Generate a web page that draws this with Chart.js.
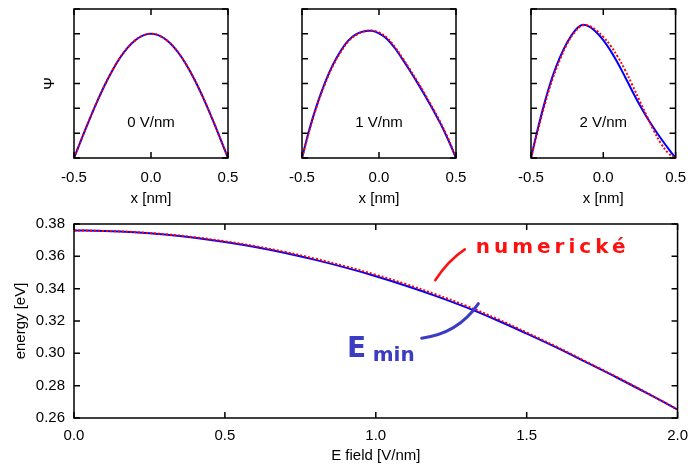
<!DOCTYPE html>
<html>
<head>
<meta charset="utf-8">
<script src="https://cdn.jsdelivr.net/npm/chart.js@4.4.0/dist/chart.umd.min.js"></script>
<style>
  html, body { margin: 0; padding: 0; background: #fff; }
  #wrap { position: relative; width: 697px; height: 468px; }
  #wrap canvas { position: absolute; left: 0; top: 0; }
</style>
</head>
<body>
<div id="wrap">
  <canvas id="psi0" width="697" height="468"></canvas>
  <canvas id="psi1" width="697" height="468"></canvas>
  <canvas id="psi2" width="697" height="468"></canvas>
  <canvas id="energy" width="697" height="468"></canvas>
</div>
<script>
// wavefunction grid [nm]
const xGrid = [-0.5, -0.45, -0.4, -0.35, -0.3, -0.25, -0.2, -0.15, -0.1, -0.05, 0,
               0.05, 0.1, 0.15, 0.2, 0.25, 0.3, 0.35, 0.4, 0.45, 0.5];

// 0 V/nm
const psi0Min = [0, 0.156, 0.309, 0.454, 0.588, 0.707, 0.809, 0.891, 0.951, 0.988, 1.0,
                 0.988, 0.951, 0.891, 0.809, 0.707, 0.588, 0.454, 0.309, 0.156, 0];
const psi0Num = [0, 0.156, 0.309, 0.454, 0.588, 0.707, 0.809, 0.891, 0.951, 0.988, 1.0,
                 0.988, 0.951, 0.891, 0.809, 0.707, 0.588, 0.454, 0.309, 0.156, 0];
// 1 V/nm
const psi1Min = [0, 0.24, 0.44, 0.61, 0.75, 0.86, 0.945, 0.995, 1.02, 1.024, 1.004,
                 0.96, 0.89, 0.80, 0.705, 0.605, 0.50, 0.39, 0.275, 0.145, 0];
const psi1Num = [0, 0.23, 0.43, 0.60, 0.74, 0.85, 0.937, 0.99, 1.018, 1.026, 1.012,
                 0.97, 0.90, 0.81, 0.715, 0.615, 0.51, 0.40, 0.285, 0.155, 0];
// 2 V/nm
const psi2Min = [0, 0.25, 0.47, 0.66, 0.81, 0.93, 1.02, 1.07, 1.06, 1.015, 0.95,
                 0.865, 0.765, 0.655, 0.54, 0.43, 0.33, 0.24, 0.155, 0.075, 0];
const psi2Num = [0, 0.23, 0.45, 0.64, 0.79, 0.92, 1.01, 1.065, 1.065, 1.03, 0.975,
                 0.905, 0.815, 0.71, 0.59, 0.465, 0.34, 0.22, 0.115, 0.04, 0];

// energy vs field
const fieldGrid = [0, 0.1, 0.2, 0.3, 0.4, 0.5, 0.6, 0.7, 0.8, 0.9, 1.0,
                   1.1, 1.2, 1.3, 1.4, 1.5, 1.6, 1.7, 1.8, 1.9, 2.0];
const energyMin = [0.3760, 0.3757, 0.3749, 0.3735, 0.3715, 0.3689, 0.3658, 0.3621, 0.3578, 0.3530, 0.3477,
                   0.3418, 0.3354, 0.3284, 0.3206, 0.3122, 0.3035, 0.2942, 0.2849, 0.2752, 0.2652];
const energyNum = [0.3760, 0.3757, 0.3750, 0.3737, 0.3718, 0.3693, 0.3663, 0.3627, 0.3585, 0.3538, 0.3486,
                   0.3428, 0.3364, 0.3294, 0.3215, 0.3129, 0.3040, 0.2946, 0.2852, 0.2754, 0.2653];

// ticks and labels
const psiXTicks = [-0.5, 0, 0.5];
const psiYTicks = [0, 0.2, 0.4, 0.6, 0.8, 1.0, 1.2];
const fieldTicks = [0, 0.5, 1.0, 1.5, 2.0];
const energyTicks = [0.26, 0.28, 0.30, 0.32, 0.34, 0.36, 0.38];
const panelLabels = ['0 V/nm', '1 V/nm', '2 V/nm'];

const FAMILY = '"Liberation Sans", Arial, sans-serif';
const font = { family: FAMILY, size: 15 };
const RED = '#ff0000';
const BLUE = '#0000ff';

function pts(xs, ys) {
  return xs.map((x, i) => ({ x: x, y: ys[i] }));
}

function fixTicks(list) {
  return s => { s.ticks = list.map(v => ({ value: v })); };
}

// gnuplot-like frame with inward ticks on all sides
const frame = {
  id: 'frame',
  afterDatasetsDraw(chart) {
    const { ctx, chartArea: a, scales: { x, y } } = chart;
    const len = 6;
    ctx.save();
    ctx.strokeStyle = '#000';
    ctx.lineWidth = 1.5;
    ctx.beginPath();
    x.ticks.forEach(t => {
      const px = x.getPixelForValue(t.value);
      ctx.moveTo(px, a.bottom); ctx.lineTo(px, a.bottom - len);
      ctx.moveTo(px, a.top); ctx.lineTo(px, a.top + len);
    });
    y.ticks.forEach(t => {
      const py = y.getPixelForValue(t.value);
      ctx.moveTo(a.left, py); ctx.lineTo(a.left + len, py);
      ctx.moveTo(a.right, py); ctx.lineTo(a.right - len, py);
    });
    ctx.stroke();
    ctx.strokeRect(a.left, a.top, a.right - a.left, a.bottom - a.top);
    ctx.restore();
  }
};

// field label inside each small panel
const panelText = {
  id: 'panelText',
  afterDatasetsDraw(chart, args, opts) {
    const { ctx, scales: { x, y } } = chart;
    ctx.save();
    ctx.font = '15px ' + FAMILY;
    ctx.fillStyle = '#000';
    ctx.textAlign = 'center';
    ctx.textBaseline = 'middle';
    ctx.fillText(opts.text, x.getPixelForValue(opts.x), y.getPixelForValue(opts.y));
    ctx.restore();
  }
};

// hand-written notes on the energy plot (positions in data units)
const notes = {
  id: 'notes',
  afterDatasetsDraw(chart, args, opts) {
    const { ctx, scales: { x, y } } = chart;
    const P = p => [x.getPixelForValue(p[0]), y.getPixelForValue(p[1])];
    ctx.save();
    ctx.lineCap = 'round';
    opts.strokes.forEach(s => {
      const a = P(s.from), c = P(s.ctrl), b = P(s.to);
      ctx.strokeStyle = s.color;
      ctx.lineWidth = s.width;
      ctx.beginPath();
      ctx.moveTo(a[0], a[1]);
      ctx.quadraticCurveTo(c[0], c[1], b[0], b[1]);
      ctx.stroke();
    });
    opts.texts.forEach(t => {
      const p = P(t.at);
      ctx.fillStyle = t.color;
      ctx.font = t.font;
      ctx.letterSpacing = t.spacing || '0px';
      ctx.textAlign = 'left';
      ctx.textBaseline = 'alphabetic';
      ctx.fillText(t.text, p[0], p[1]);
    });
    ctx.restore();
  }
};

function psiChart(id, minVals, numVals, label, pad, showY) {
  new Chart(document.getElementById(id), {
    type: 'line',
    data: {
      datasets: [
        { data: pts(xGrid, numVals), borderColor: RED, borderWidth: 2, borderDash: [2, 2],
          pointRadius: 0, tension: 0.4 },
        { data: pts(xGrid, minVals), borderColor: BLUE, borderWidth: 2,
          pointRadius: 0, tension: 0.4 }
      ]
    },
    options: {
      responsive: false,
      animation: false,
      events: [],
      layout: { padding: pad },
      plugins: {
        legend: { display: false },
        tooltip: { enabled: false },
        panelText: { text: label, x: 0, y: 0.285 }
      },
      scales: {
        x: {
          type: 'linear', min: -0.5, max: 0.5,
          afterBuildTicks: fixTicks(psiXTicks),
          afterFit: s => { s.height = 50; },
          grid: { display: false, drawTicks: false }, border: { display: false },
          ticks: { font: font, color: '#000', padding: 11, maxRotation: 0, callback: v => v.toFixed(1) },
          title: { display: true, text: 'x [nm]', font: font, color: '#000', padding: { top: 0, bottom: 0 } }
        },
        y: {
          type: 'linear', min: 0, max: 1.2,
          afterBuildTicks: fixTicks(psiYTicks),
          afterFit: s => { s.width = showY ? 74 : 0; },
          grid: { display: false, drawTicks: false }, border: { display: false },
          ticks: { display: false },
          title: { display: showY, text: 'Ψ', font: font, color: '#000', padding: { top: 41, bottom: 0 } }
        }
      }
    },
    plugins: [frame, panelText]
  });
}

psiChart('psi0', psi0Min, psi0Num, panelLabels[0], { left: 0, right: 469, top: 9, bottom: 260 }, true);
psiChart('psi1', psi1Min, psi1Num, panelLabels[1], { left: 302, right: 241, top: 9, bottom: 260 }, false);
psiChart('psi2', psi2Min, psi2Num, panelLabels[2], { left: 531, right: 13, top: 9, bottom: 260 }, false);

new Chart(document.getElementById('energy'), {
  type: 'line',
  data: {
    datasets: [
      { data: pts(fieldGrid, energyNum), borderColor: RED, borderWidth: 2, borderDash: [2, 2],
        pointRadius: 0, tension: 0.4 },
      { data: pts(fieldGrid, energyMin), borderColor: BLUE, borderWidth: 2,
        pointRadius: 0, tension: 0.4 }
    ]
  },
  options: {
    responsive: false,
    animation: false,
    events: [],
    layout: { padding: { left: 0, right: 13, top: 224, bottom: 0 } },
    plugins: {
      legend: { display: false },
      tooltip: { enabled: false },
      notes: {
        strokes: [
          { from: [1.197, 0.3452], ctrl: [1.24, 0.3575], to: [1.295, 0.3643], color: '#ff1010', width: 2.5 },
          { from: [1.152, 0.3094], ctrl: [1.272, 0.3121], to: [1.340, 0.3307], color: '#3b3bc4', width: 3 }
        ],
        texts: [
          { text: 'numerické', at: [1.331, 0.3623], color: '#ff1010', font: 'bold 20px "DejaVu Sans"', spacing: '4px' },
          { text: 'E', at: [0.905, 0.2977], color: '#3b3bc4', font: 'bold 28px "DejaVu Sans"' },
          { text: 'min', at: [0.99, 0.2952], color: '#3b3bc4', font: 'bold 20px "DejaVu Sans"' }
        ]
      }
    },
    scales: {
      x: {
        type: 'linear', min: 0, max: 2,
        afterBuildTicks: fixTicks(fieldTicks),
        afterFit: s => { s.height = 50; },
        grid: { display: false, drawTicks: false }, border: { display: false },
        ticks: { font: font, color: '#000', padding: 9, maxRotation: 0, callback: v => v.toFixed(1) },
        title: { display: true, text: 'E field [V/nm]', font: font, color: '#000', padding: { top: 0, bottom: 3 } }
      },
      y: {
        type: 'linear', min: 0.26, max: 0.38,
        afterBuildTicks: fixTicks(energyTicks),
        afterFit: s => { s.width = 74; },
        grid: { display: false, drawTicks: false }, border: { display: false },
        ticks: { font: font, color: '#000', padding: 9, callback: v => v.toFixed(2) },
        title: { display: true, text: 'energy [eV]', font: font, color: '#000', padding: { top: 12, bottom: 0 } }
      }
    }
  },
  plugins: [frame, notes]
});
</script>
</body>
</html>
